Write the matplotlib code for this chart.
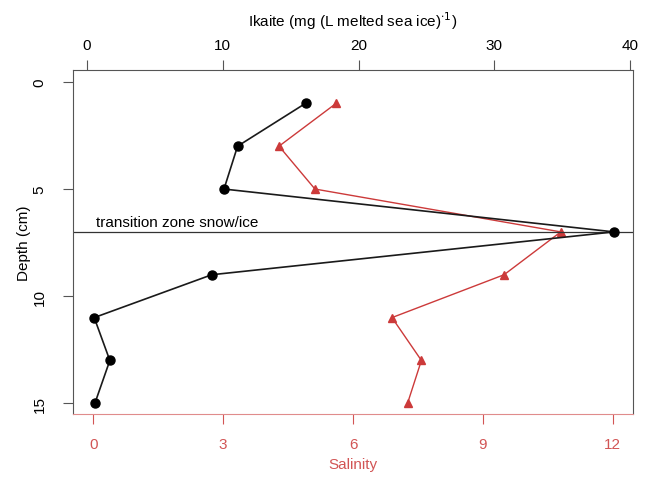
import matplotlib.pyplot as plt

plt.rcParams['font.family'] = ['Liberation Sans', 'DejaVu Sans']

# depth of each sample (cm)
depth = [1, 3, 5, 7, 9, 11, 13, 15]
# ikaite, mg per L melted sea ice (top axis, black)
ikaite = [16.1, 11.1, 10.1, 38.8, 9.2, 0.55, 1.7, 0.6]
# bulk salinity (bottom axis, red)
salinity = [5.61, 4.29, 5.12, 10.8, 9.49, 6.9, 7.58, 7.26]

depth_ticks = [0, 5, 10, 15]
sal_ticks = [0, 3, 6, 9, 12]
ika_ticks = [0, 10, 20, 30, 40]

red = '#cc3a3a'
redlab = '#d25555'
boxcol = '#555555'
fs = 11

fig = plt.figure(figsize=(6.49, 4.81), dpi=100)
ax = fig.add_axes([0.1125, 0.1372, 0.8629, 0.7158])

ax.plot(salinity, depth, color=red, lw=1.0, marker='^', ms=5.5, mec=red, mfc=red)
ax.set_xlim(-0.47, 12.47)
ax.set_ylim(15.5, -0.57)
ax.set_xticks(sal_ticks)
ax.set_yticks(depth_ticks)
ax.tick_params(axis='x', colors=redlab, labelsize=fs, length=7, pad=9.5)
ax.tick_params(axis='y', labelsize=fs, length=7, pad=12, labelrotation=90,
               color=boxcol)
for lab in ax.get_yticklabels():
    lab.set_va('center')
ax.set_xlabel('Salinity', color=redlab, fontsize=fs, labelpad=4.5)
ax.set_ylabel('Depth (cm)', fontsize=fs, labelpad=1)
for s in ax.spines.values():
    s.set_color(boxcol)
ax.spines['bottom'].set_color('#e08c8c')

ax.axhline(7, color='#333333', lw=0.9)
ax.text(0.05, 6.85, 'transition zone snow/ice', fontsize=fs, va='bottom',
        color='black')

ax2 = ax.twiny()
ax2.plot(ikaite, depth, color='#1a1a1a', lw=1.2, marker='o', ms=6.5,
         mec='black', mfc='black')
ax2.set_xlim(-1.01, 40.2)
ax2.set_xticks(ika_ticks)
ax2.tick_params(axis='x', labelsize=fs, length=7, pad=5.5, color=boxcol)
ax2.set_xlabel(r'Ikaite (mg (L melted sea ice)$^{\cdot 1}$)', fontsize=fs,
               labelpad=9)
for s in ax2.spines.values():
    s.set_visible(False)

fig.savefig('out.png', dpi=100)
